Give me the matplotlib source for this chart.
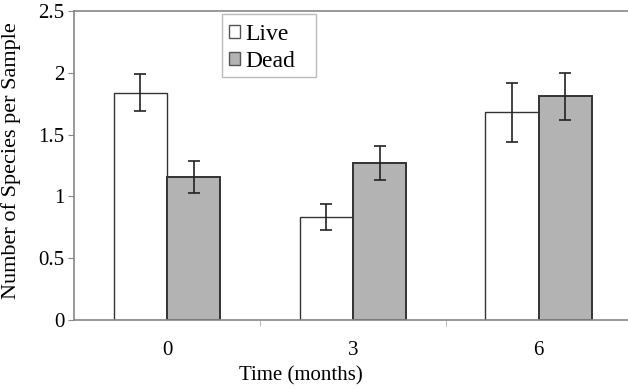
import matplotlib
matplotlib.use("Agg")
import matplotlib.pyplot as plt
from matplotlib.patches import Rectangle
import numpy as np

categories = ["0", "3", "6"]
live = [1.84, 0.83, 1.68]
live_err = [0.15, 0.105, 0.24]
dead = [1.16, 1.27, 1.81]
dead_err = [0.13, 0.14, 0.19]

plt.rcParams['font.family'] = ['Liberation Serif', 'DejaVu Serif']

W, H = 628, 389
fig = plt.figure(figsize=(W / 100, H / 100), dpi=100)
ax = fig.add_axes([0.118, 0.177, 0.885, 0.795])

x = np.arange(len(categories))
w = 0.287
ax.bar(x - w/2, live, w, color='white', edgecolor='#333333', linewidth=1.0, label='Live', zorder=2)
ax.bar(x + w/2, dead, w, color='#b3b3b3', edgecolor='#333333', linewidth=1.4, label='Dead', zorder=2)
ax.errorbar(x - w/2, live, yerr=live_err, fmt='none', ecolor='#222222', elinewidth=1.2, capsize=4, capthick=1.2, zorder=3)
ax.errorbar(x + w/2, dead, yerr=dead_err, fmt='none', ecolor='#222222', elinewidth=1.2, capsize=4, capthick=1.2, zorder=3)

ax.set_xlim(-0.5, 2.49)
ax.set_ylim(0, 2.5)
ax.set_yticks([0, 0.5, 1, 1.5, 2, 2.5])
ax.set_yticklabels(['0', '0.5', '1', '1.5', '2', '2.5'])
ax.set_xticks(x)
ax.set_xticklabels(categories)
ax.set_xticks([0.5, 1.5], minor=True)
ax.tick_params(axis='x', which='major', length=0, labelsize=15, pad=15)
ax.tick_params(axis='x', which='minor', length=4, color='#aaaaaa')
ax.tick_params(axis='y', labelsize=15, length=4, color='#888888', pad=3)

for s in ['left', 'bottom', 'top']:
    ax.spines[s].set_color('#888888')
    ax.spines[s].set_linewidth(1.2)
ax.spines['right'].set_visible(False)

ax.set_xlabel('Time (months)', fontsize=15)
ax.xaxis.set_label_coords(0.408, -0.148)
ax.set_ylabel('Number of Species per Sample', fontsize=16)
ax.yaxis.set_label_coords(-0.095, 0.517)

# legend frame drawn separately (reference frame has wide right padding)
frame = Rectangle((222 / W, 1 - 77 / H), 94 / W, 63 / H,
                  transform=fig.transFigure, facecolor='white',
                  edgecolor='#bbbbbb', linewidth=1.0, zorder=4, clip_on=False)
ax.add_patch(frame)
leg = ax.legend(loc='upper left', frameon=False, fontsize=17,
                handlelength=0.45, handleheight=0.45, handletextpad=0.25,
                borderpad=0.0, labelspacing=0.25, borderaxespad=0)
leg.set_bbox_to_anchor((229 / W, 1 - 24 / H), transform=fig.transFigure)
leg.set_zorder(5)
for h in leg.legend_handles:
    h.set_edgecolor('#555555')
    h.set_linewidth(1.0)

fig.savefig('out.png', dpi=100)
